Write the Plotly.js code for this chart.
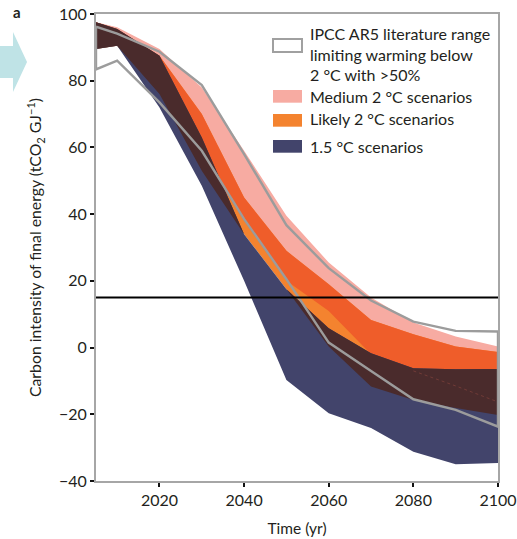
<!DOCTYPE html>
<html>
<head>
<meta charset="utf-8">
<script src="https://cdn.plot.ly/plotly-3.0.1.min.js"></script>
<style>
  html, body { margin: 0; padding: 0; background: #ffffff; }
  #chart { width: 517px; height: 539px; }
</style>
</head>
<body>
<div id="chart"></div>
<script>
// ---- data ----
const years = [2005, 2010, 2020, 2030, 2040, 2050, 2060, 2070, 2080, 2090, 2100];
const ar5Upper = [96.2, 94.1, 88.7, 78.7, 58, 36.7, 23.8, 14.1, 7.8, 5.0, 4.8];
const ar5Lower = [83.4, 86, 73.5, 59, 38.5, 20.5, 1.5, -7, -15.5, -18.7, -23.7];
const mediumHigh = [97.5, 96, 89.5, 78, 59, 39.5, 25.5, 15, 7.5, 3.3, 0.3];
const mediumLow = [90, 91, 80, 58, 38, 20, 11, -2, -7, -11.5, -16.3];
const likelyHigh = [97.5, 95.5, 87.5, 70, 45, 29, 19, 8.3, 4, 0.3, -1.3];
const likelyLow = [89.5, 90.5, 76, 53, 34, 17.5, 0.3, -11.7, -15.7, -18.1, -20.2];
const onePointFiveHigh = [97.5, 95.5, 87.5, 63, 34, 17.5, 5.8, -1.7, -6.2, -6.5, -6.4];
const onePointFiveLow = [89.5, 90.5, 72, 48.5, 20, -9.7, -19.7, -24.1, -31.2, -35, -34.6];
const thresholdValue = 15;
const dottedFromYear = 2080;
const xTicks = [2020, 2040, 2060, 2080, 2100];
const legendLabels = {
  ar5: ["IPCC AR5 literature range", "limiting warming below", "2 °C with >50%"],
  medium: "Medium 2 °C scenarios",
  likely: "Likely 2 °C scenarios",
  onePointFive: "1.5 °C scenarios"
};

// ---- styles ----
const C = {
  pink: '#f7aba2',
  redOrange: '#ef5d2a',
  orange: '#f4832f',
  brown: '#4a2b2c',
  navy: '#42446b',
  gray: '#9c9c9c',
  text: '#231f20',
  axis: '#a6a6a6',
  arrow: '#bfe3e6'
};
const FONT = 'Lato, "Open Sans", sans-serif';

// ---- derived regions ----
const rev = a => a.slice().reverse();
function bandTrace(lo, hi, color, name) {
  return {
    x: years.concat(rev(years)),
    y: hi.concat(rev(lo)),
    type: 'scatter', mode: 'lines', fill: 'toself',
    fillcolor: color, line: {width: 0, color: color},
    hoverinfo: 'skip', showlegend: false, name: name
  };
}
const ovLo = [], ovHi = [], brLo = [], brHi = [];
years.forEach((_, i) => {
  const lo1 = Math.max(mediumLow[i], likelyLow[i]);
  const hi1 = Math.min(mediumHigh[i], likelyHigh[i]);
  ovLo.push(lo1); ovHi.push(Math.max(lo1, hi1));
  const uLo = Math.min(mediumLow[i], likelyLow[i]);
  const uHi = Math.max(mediumHigh[i], likelyHigh[i]);
  const lo2 = Math.max(onePointFiveLow[i], uLo);
  const hi2 = Math.min(onePointFiveHigh[i], uHi);
  brLo.push(lo2); brHi.push(Math.max(lo2, hi2));
});
// dotted edge of the medium band where it lies inside the dark overlap
const dotX = [], dotY = [];
years.forEach((y, i) => {
  if (y >= dottedFromYear) { dotX.push(y); dotY.push(mediumLow[i]); }
});
const ar5X = years.concat(rev(years)).concat([years[0]]);
const ar5Y = ar5Upper.concat(rev(ar5Lower)).concat([ar5Upper[0]]);

const traces = [
  bandTrace(mediumLow, mediumHigh, C.pink, 'Medium 2 °C'),
  bandTrace(likelyLow, likelyHigh, C.orange, 'Likely 2 °C'),
  bandTrace(ovLo, ovHi, C.redOrange, 'overlap'),
  bandTrace(onePointFiveLow, onePointFiveHigh, C.navy, '1.5 °C'),
  bandTrace(brLo, brHi, C.brown, 'overlap 1.5'),
  {x: dotX, y: dotY, type: 'scatter', mode: 'lines',
   line: {color: '#7a3f3a', width: 0.8, dash: 'dot'}, hoverinfo: 'skip', showlegend: false},
  {x: ar5X, y: ar5Y, type: 'scatter', mode: 'lines',
   line: {color: C.gray, width: 2.4}, hoverinfo: 'skip', showlegend: false, name: 'IPCC AR5'}
];

// ---- manual legend (paper coordinates) ----
const L = {x0: 0.4403, x1: 0.5124, tx: 0.5274};
const shapes = [
  {type: 'line', xref: 'paper', x0: 0, x1: 1, yref: 'y', y0: thresholdValue, y1: thresholdValue,
   line: {color: '#000000', width: 2}, layer: 'above'},
  {type: 'rect', xref: 'paper', yref: 'paper', x0: L.x0, x1: L.x1, y0: 0.9186, y1: 0.9465,
   line: {color: '#a0a0a0', width: 2}, fillcolor: '#ffffff'},
  {type: 'rect', xref: 'paper', yref: 'paper', x0: L.x0, x1: L.x1, y0: 0.8101, y1: 0.8373,
   line: {width: 0}, fillcolor: C.pink},
  {type: 'rect', xref: 'paper', yref: 'paper', x0: L.x0, x1: L.x1, y0: 0.7587, y1: 0.7859,
   line: {width: 0}, fillcolor: C.orange},
  {type: 'rect', xref: 'paper', yref: 'paper', x0: L.x0, x1: L.x1, y0: 0.7030, y1: 0.7302,
   line: {width: 0}, fillcolor: C.navy},
  // partial arrow from neighbouring panel
  {type: 'path', xref: 'paper', yref: 'paper', layer: 'above',
   path: 'M -0.2388 0.9315 L -0.2065 0.9315 L -0.2065 0.9615 L -0.1716 0.8972 L -0.2065 0.8330 L -0.2065 0.8630 L -0.2388 0.8630 Z',
   fillcolor: C.arrow, line: {width: 0}}
];
const legFont = {family: FONT, size: 16, color: C.text};
const annotations = [];
const legRows = [
  [legendLabels.ar5[0], 0.9572], [legendLabels.ar5[1], 0.9143], [legendLabels.ar5[2], 0.8694],
  [legendLabels.medium, 0.8244], [legendLabels.likely, 0.7752], [legendLabels.onePointFive, 0.7173]
];
legRows.forEach(r => annotations.push({
  text: r[0], xref: 'paper', yref: 'paper', x: L.tx, y: r[1],
  xanchor: 'left', yanchor: 'middle', showarrow: false, font: legFont
}));
annotations.push({
  text: '<b>a</b>', xref: 'paper', yref: 'paper', x: -0.1965, y: 1.004,
  xanchor: 'center', yanchor: 'middle', showarrow: false,
  font: {family: FONT, size: 15, color: C.text}
});

const layout = {
  width: 517, height: 539,
  margin: {l: 96, r: 19, t: 14, b: 58, pad: 0},
  paper_bgcolor: '#ffffff', plot_bgcolor: '#ffffff',
  showlegend: false,
  font: {family: FONT, size: 15, color: C.text},
  xaxis: {
    range: [2005, 2100], tickvals: xTicks, ticks: 'outside', ticklen: 4, tickwidth: 2,
    tickcolor: '#111111', showline: true, linecolor: C.axis, linewidth: 2, mirror: true,
    showgrid: false, zeroline: false, automargin: false,
    tickfont: {family: FONT, size: 16, color: C.text},
    title: {text: 'Time (yr)', font: {family: FONT, size: 15.5, color: C.text}, standoff: 15}
  },
  yaxis: {
    range: [-40, 100], dtick: 20, tick0: 0, ticks: 'outside', ticklen: 4, tickwidth: 2,
    tickcolor: '#111111', showline: true, linecolor: C.axis, linewidth: 2, mirror: true,
    showgrid: false, zeroline: false, automargin: false,
    tickfont: {family: FONT, size: 16, color: C.text},
    title: {text: 'Carbon intensity of final energy (tCO<sub>2</sub> GJ<sup>−1</sup>)',
            font: {family: FONT, size: 15.8, color: C.text}, standoff: 13}
  },
  shapes: shapes,
  annotations: annotations
};

Plotly.newPlot('chart', traces, layout, {displayModeBar: false, staticPlot: true});
</script>
</body>
</html>
